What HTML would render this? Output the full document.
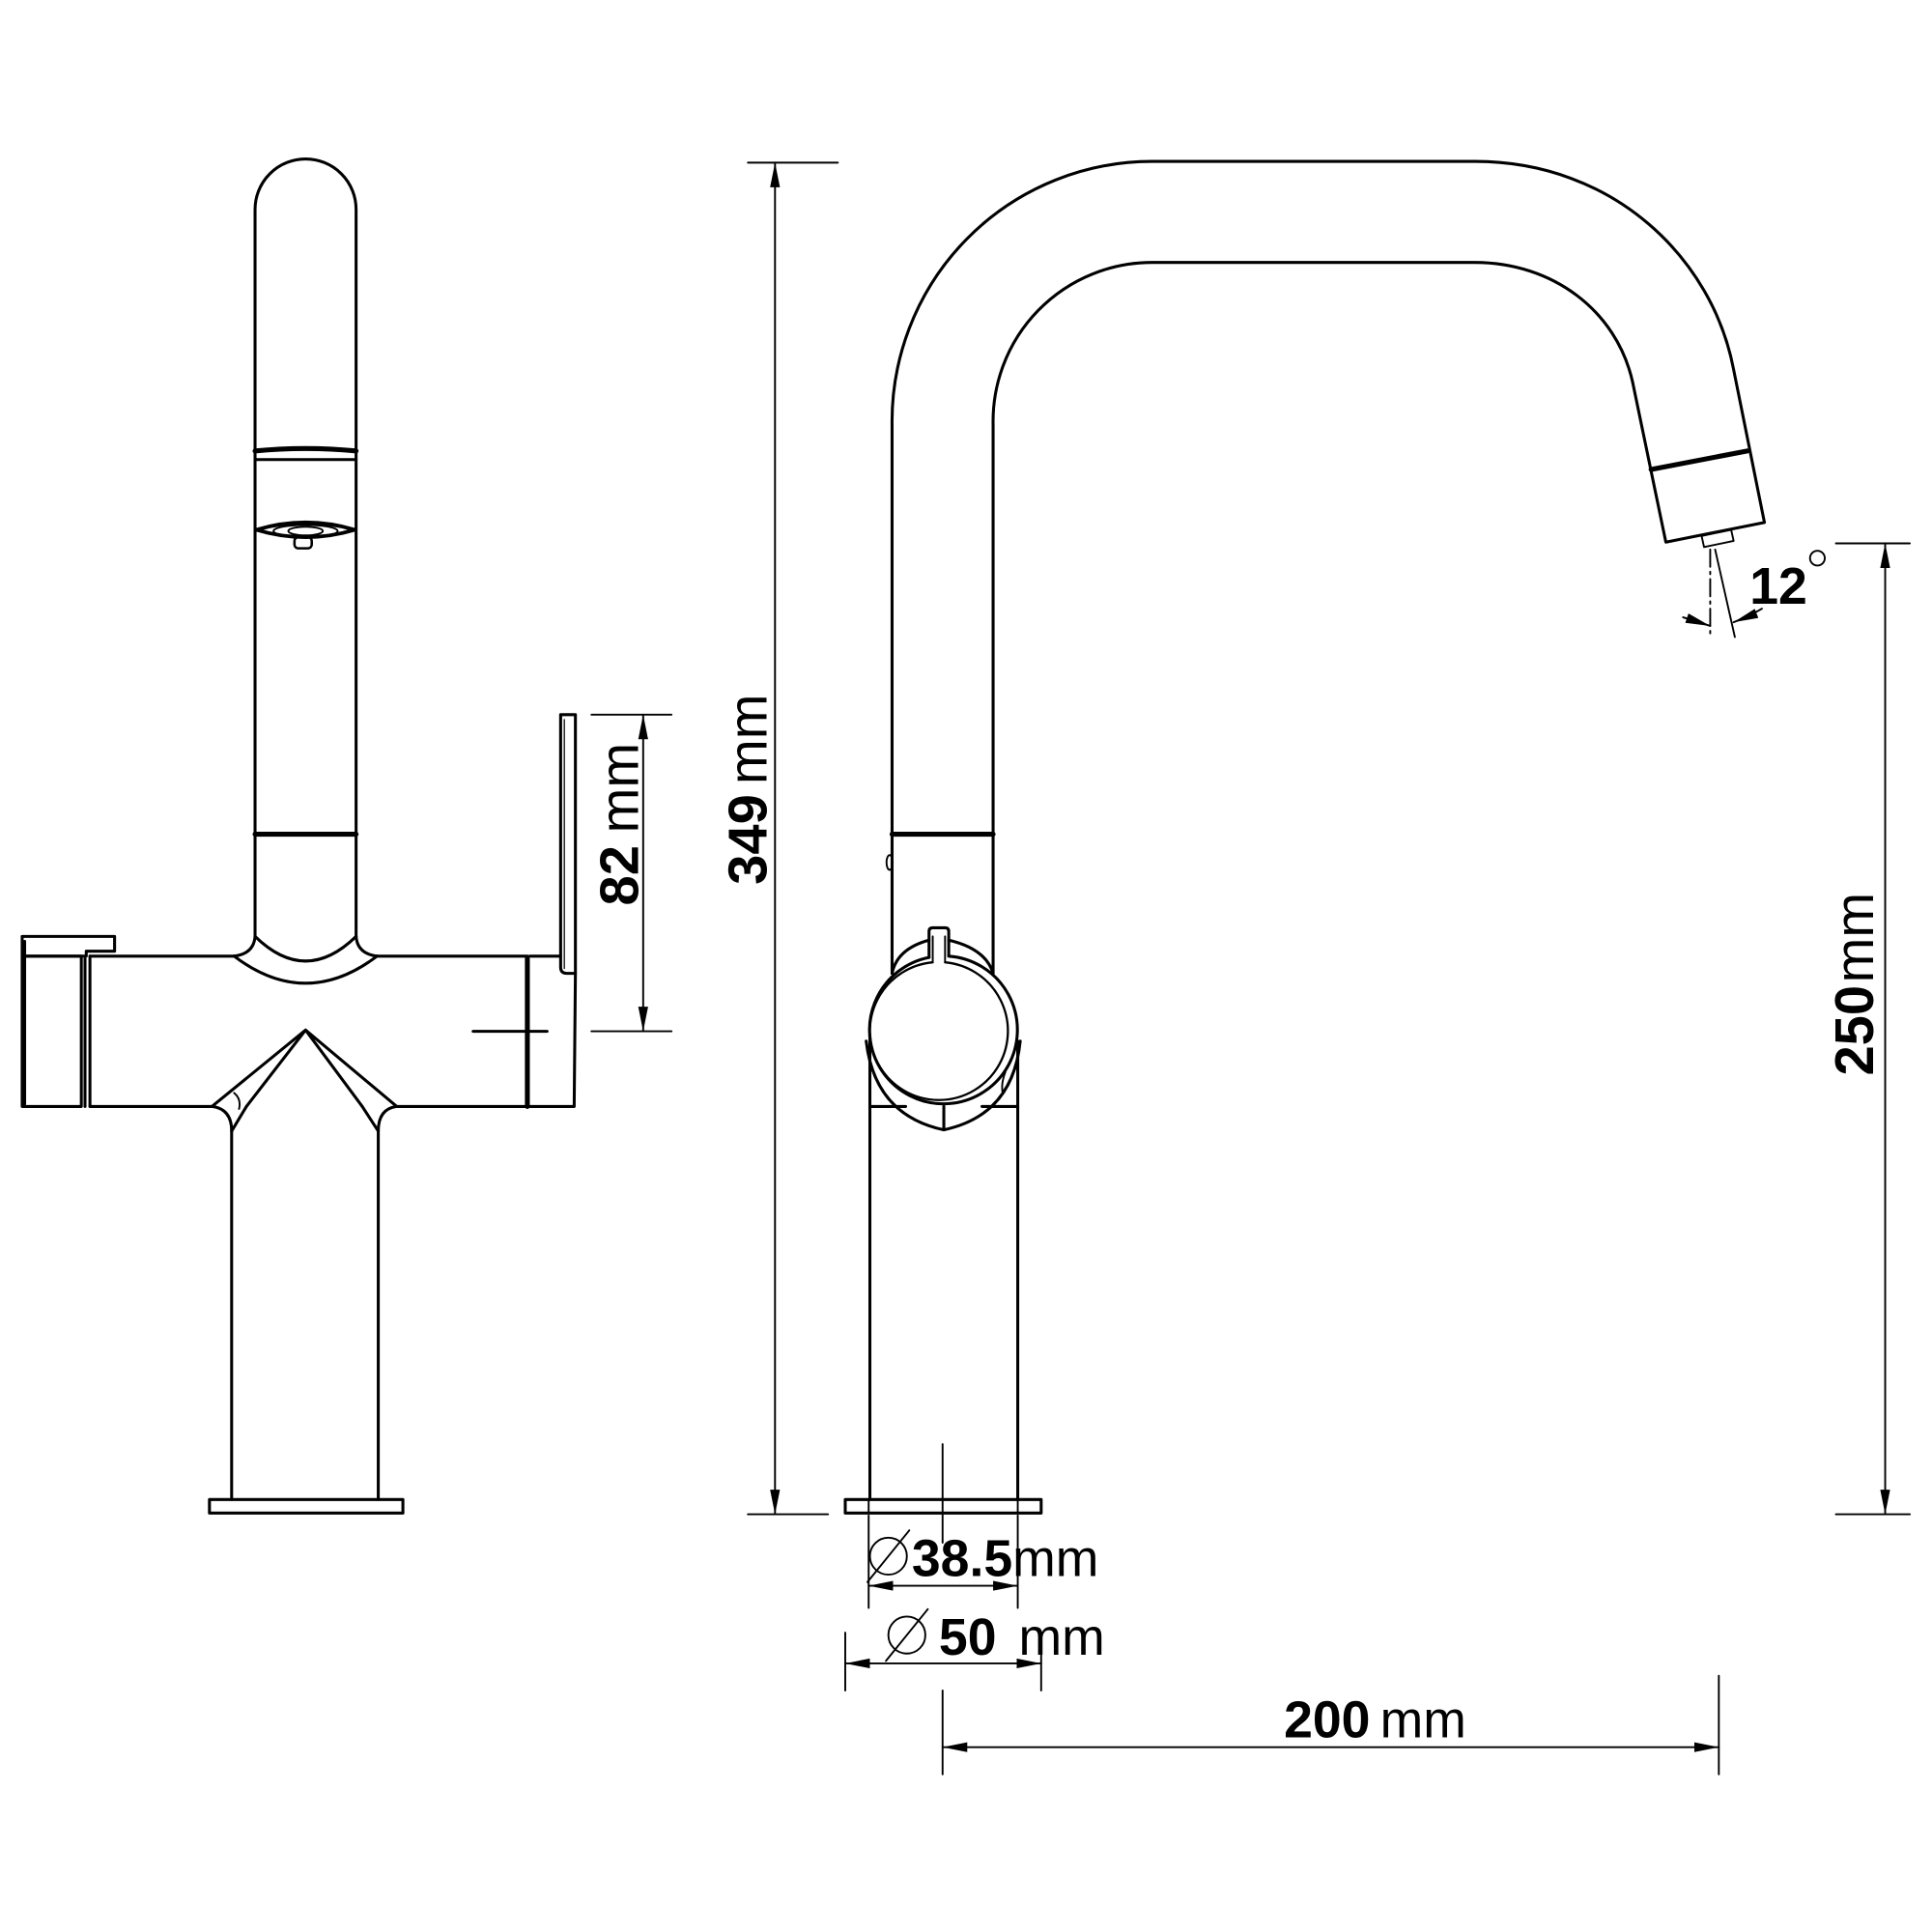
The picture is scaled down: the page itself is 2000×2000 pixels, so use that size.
<!DOCTYPE html>
<html><head><meta charset="utf-8"><style>
html,body{margin:0;padding:0;background:#fff;}
svg{display:block;}
text{font-family:"Liberation Sans",Arial,sans-serif;fill:#000;}
.b{font-weight:bold;}
</style></head><body>
<svg width="2000" height="2000" viewBox="0 0 1568 1568" xmlns="http://www.w3.org/2000/svg">
<defs>
<marker id="a" viewBox="0 0 20 8" refX="20" refY="4" markerWidth="20" markerHeight="8" markerUnits="userSpaceOnUse" orient="auto-start-reverse"><path d="M0,0 L20,4 L0,8 Z" fill="#000"/></marker>
</defs>
<g fill="none" stroke="#000" stroke-width="2.4" stroke-linejoin="round" stroke-linecap="round">
<!-- LEFT FAUCET -->
<path d="M207,760 L207,170 A41,41 0 0 1 289,170 L289,760"/>
<path d="M207,366 Q248,362 289,366" stroke-width="4"/>
<line x1="207" y1="373" x2="289" y2="373"/>
<path d="M208,430 Q248,418 288,430 Q248,442 208,430 Z" stroke-width="3"/>
<ellipse cx="248" cy="431" rx="26" ry="5" stroke-width="1.5"/>
<ellipse cx="248" cy="431" rx="14" ry="3.5" stroke-width="1.5"/>
<rect x="239" y="436" width="14" height="9" rx="3" stroke-width="2"/>
<line x1="207" y1="677" x2="289" y2="677" stroke-width="4"/>
<path d="M207,760 Q206,774 190,776"/>
<path d="M289,760 Q290,774 306,776"/>
<path d="M207,760 Q248,800 289,760"/>
<path d="M190,776 Q248,820 306,776"/>
<!-- body -->
<path d="M73,776 L190,776 M306,776 L428,776 L428,898 L322,898 M172,898 L73,898 Z"/>
<line x1="73" y1="776" x2="73" y2="898"/>
<line x1="69" y1="778" x2="69" y2="898"/>
<path d="M18,760 L93,760 L93,772 L70,772 L70,776 L18,776 Z"/>
<path d="M18,776 L66,776 L66,898 L18,898 Z"/>
<line x1="20" y1="764" x2="20" y2="896"/>
<line x1="428" y1="778" x2="428" y2="898" stroke-width="4"/>
<path d="M430,776 L455,776 M430,898 L466,898 L467,790"/>
<path d="M455,580 L455,785 Q455,790 460,790 L467,790 L467,580 Z"/>
<line x1="458" y1="584" x2="458" y2="786" stroke-width="1"/>
<line x1="384" y1="837" x2="444" y2="837"/>
<!-- lower V -->
<path d="M172,898 L248,836 L200,898 M248,836 L294,898 M248,836 L322,898"/>
<path d="M200,898 L188,918 M294,898 L307,918"/>
<path d="M172,898 Q188,900 188,918 M322,898 Q307,900 307,918"/>
<path d="M190,887 Q196,892 194,900" stroke-width="1.5"/>
<line x1="188" y1="918" x2="188" y2="1217"/>
<line x1="307" y1="918" x2="307" y2="1217"/>
<rect x="170" y="1217" width="157" height="11"/>
<!-- 82 dim -->
<line x1="480" y1="580" x2="545" y2="580" stroke-width="1.5"/>
<line x1="480" y1="837" x2="545" y2="837" stroke-width="1.5"/>
<line x1="522" y1="580" x2="522" y2="837" stroke-width="1.5" marker-start="url(#a)" marker-end="url(#a)"/>
<!-- 349 dim -->
<line x1="607" y1="132" x2="680" y2="132" stroke-width="1.5"/>
<line x1="607" y1="1229" x2="672" y2="1229" stroke-width="1.5"/>
<line x1="629" y1="132" x2="629" y2="1229" stroke-width="1.5" marker-start="url(#a)" marker-end="url(#a)"/>

<!-- RIGHT FAUCET -->
<path d="M724,790 L724,345 A211,211 0 0 1 935,131 L1197,131 C1310,131 1390,210 1407,300 L1432,424 L1352,440 L1325,310"/>
<path d="M806,790 L806,345 A129,129 0 0 1 935,213 L1197,213 C1260,213 1312,252 1325,310"/>
<line x1="1340" y1="381" x2="1418" y2="366" stroke-width="4"/>
<path d="M1381,435 L1405,430 L1407,439 L1383,444 Z" stroke-width="1.5"/>
<line x1="724" y1="677" x2="806" y2="677" stroke-width="4"/>
<ellipse cx="722" cy="700" rx="2.5" ry="6" stroke-width="1.5"/>
<!-- handle -->
<path d="M724,790 Q728,770 754,763 M770,763 Q800,770 806,790"/>
<path d="M754,777 L754,756 Q754,753 757,753 L767,753 Q770,753 770,756 L770,776"/>
<path d="M754,777 A60,60 0 1 0 770,776"/>
<path d="M757,781 L757,760 M767,760 L767,781" stroke-width="1.5"/>
<path d="M757,781 A56,56 0 1 0 767,781" stroke-width="1.8"/>
<path d="M703,845 Q710,905 766,917 Q822,905 828,845"/>
<path d="M816,870 Q812,880 814,888" stroke-width="1.5"/>
<line x1="706" y1="898" x2="735" y2="898"/>
<line x1="797" y1="898" x2="826" y2="898"/>
<line x1="766" y1="898" x2="766" y2="916"/>
<line x1="706" y1="840" x2="706" y2="1217"/>
<line x1="826" y1="845" x2="826" y2="1217"/>
<rect x="686" y="1217" width="159" height="11"/>
<line x1="705" y1="1217" x2="705" y2="1228" stroke-width="1.5"/>
<line x1="826" y1="1217" x2="826" y2="1228" stroke-width="1.5"/>
<line x1="765" y1="1172" x2="765" y2="1252" stroke-width="1.5"/>
<!-- 12 deg -->
<line x1="1388" y1="446" x2="1388" y2="515" stroke-width="1.5" stroke-dasharray="14,4,2,4"/>
<line x1="1392" y1="446" x2="1408" y2="517" stroke-width="1.5"/>
<path d="M1366,501 Q1376,504 1388,508" stroke-width="1.5" marker-end="url(#a)"/>
<path d="M1430,494 Q1420,500 1407,505" stroke-width="1.5" marker-end="url(#a)"/>
<circle cx="1475" cy="453" r="6" stroke-width="1.5"/>
<!-- 250 dim -->
<line x1="1490" y1="441" x2="1550" y2="441" stroke-width="1.5"/>
<line x1="1490" y1="1229" x2="1550" y2="1229" stroke-width="1.5"/>
<line x1="1530" y1="441" x2="1530" y2="1229" stroke-width="1.5" marker-start="url(#a)" marker-end="url(#a)"/>
<!-- 38.5 dim -->
<line x1="705" y1="1230" x2="705" y2="1305" stroke-width="1.5"/>
<line x1="826" y1="1230" x2="826" y2="1305" stroke-width="1.5"/>
<line x1="705" y1="1287" x2="826" y2="1287" stroke-width="1.5" marker-start="url(#a)" marker-end="url(#a)"/>
<circle cx="721" cy="1263" r="15" stroke-width="1.5"/>
<line x1="704" y1="1284" x2="738" y2="1242" stroke-width="1.5"/>
<!-- 50 dim -->
<line x1="686" y1="1325" x2="686" y2="1372" stroke-width="1.5"/>
<line x1="845" y1="1325" x2="845" y2="1372" stroke-width="1.5"/>
<line x1="686" y1="1350" x2="845" y2="1350" stroke-width="1.5" marker-start="url(#a)" marker-end="url(#a)"/>
<circle cx="736" cy="1327" r="15" stroke-width="1.5"/>
<line x1="719" y1="1348" x2="753" y2="1306" stroke-width="1.5"/>
<!-- 200 dim -->
<line x1="765" y1="1372" x2="765" y2="1440" stroke-width="1.5"/>
<line x1="1395" y1="1360" x2="1395" y2="1440" stroke-width="1.5"/>
<line x1="765" y1="1418" x2="1395" y2="1418" stroke-width="1.5" marker-start="url(#a)" marker-end="url(#a)"/>
</g>
<!-- texts -->
<text transform="translate(518,735) rotate(-90)" font-size="44"><tspan class="b">82</tspan><tspan dx="10">mm</tspan></text>
<text transform="translate(622,718) rotate(-90)" font-size="44"><tspan class="b">349</tspan><tspan dx="8">mm</tspan></text>
<text transform="translate(1520,873) rotate(-90)" font-size="44"><tspan class="b">250</tspan><tspan dx="2">mm</tspan></text>
<text x="1420" y="490" font-size="42" class="b">12</text>
<text x="740" y="1279" font-size="42"><tspan class="b">38.5</tspan><tspan>mm</tspan></text>
<text x="762" y="1343" font-size="42"><tspan class="b">50</tspan><tspan dx="18">mm</tspan></text>
<text x="1042" y="1410" font-size="42"><tspan class="b">200</tspan><tspan dx="8">mm</tspan></text>
</svg>
</body></html>
